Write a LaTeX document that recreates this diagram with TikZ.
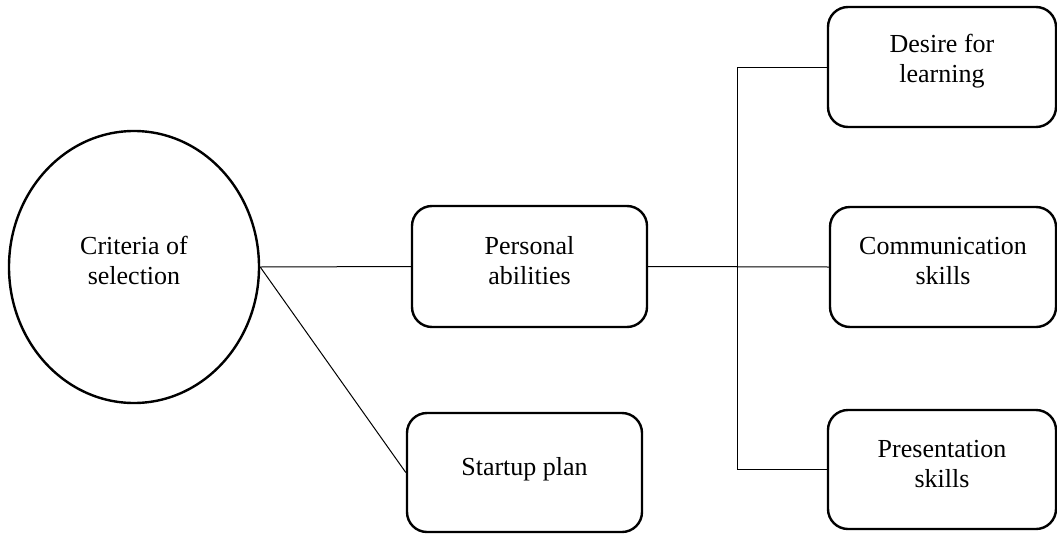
\documentclass[tikz,border=0pt]{standalone}
\usepackage{fontspec}
\setmainfont{Liberation Serif}
\usetikzlibrary{shapes.geometric}
\begin{document}
\begin{tikzpicture}[x=1pt,y=-1pt,
  label font/.style={font=\fontsize{26}{30}\selectfont},
  thick box/.style={draw, line width=2.4pt, rounded corners=20pt, align=center,
    inner sep=0pt, text depth=12pt, label font},
  conn/.style={draw, line width=1pt}]
\useasboundingbox (0,0) rectangle (1057,533);
\node[draw, ellipse, line width=2.4pt, minimum width=250pt, minimum height=272pt,
  inner sep=0pt, align=center, text depth=14pt, label font] (crit) at (134,267)
  {Criteria of\\selection};
\node[thick box, minimum width=235pt, minimum height=121pt] (pers) at (529.5,266.5)
  {Personal\\abilities};
\node[thick box, minimum width=235pt, minimum height=119pt] (start) at (524.5,472.5)
  {Startup plan};
\node[thick box, minimum width=228pt, minimum height=120pt, text depth=17pt] (des) at (942,67)
  {Desire for\\learning};
\node[thick box, minimum width=226pt, minimum height=120pt] (comm) at (943,267)
  {Communication\\skills};
\node[thick box, minimum width=228pt, minimum height=119pt] (pres) at (942,469.5)
  {Presentation\\skills};
\coordinate (jt) at (737,266);
\draw[conn] (crit.east) -- (pers.west);
\draw[conn] (crit.east) -- (start.west);
\draw[conn] (pers.east) -- (comm.west);
\draw[conn] (des.west) -| (jt) |- (pres.west);
\end{tikzpicture}
\end{document}
